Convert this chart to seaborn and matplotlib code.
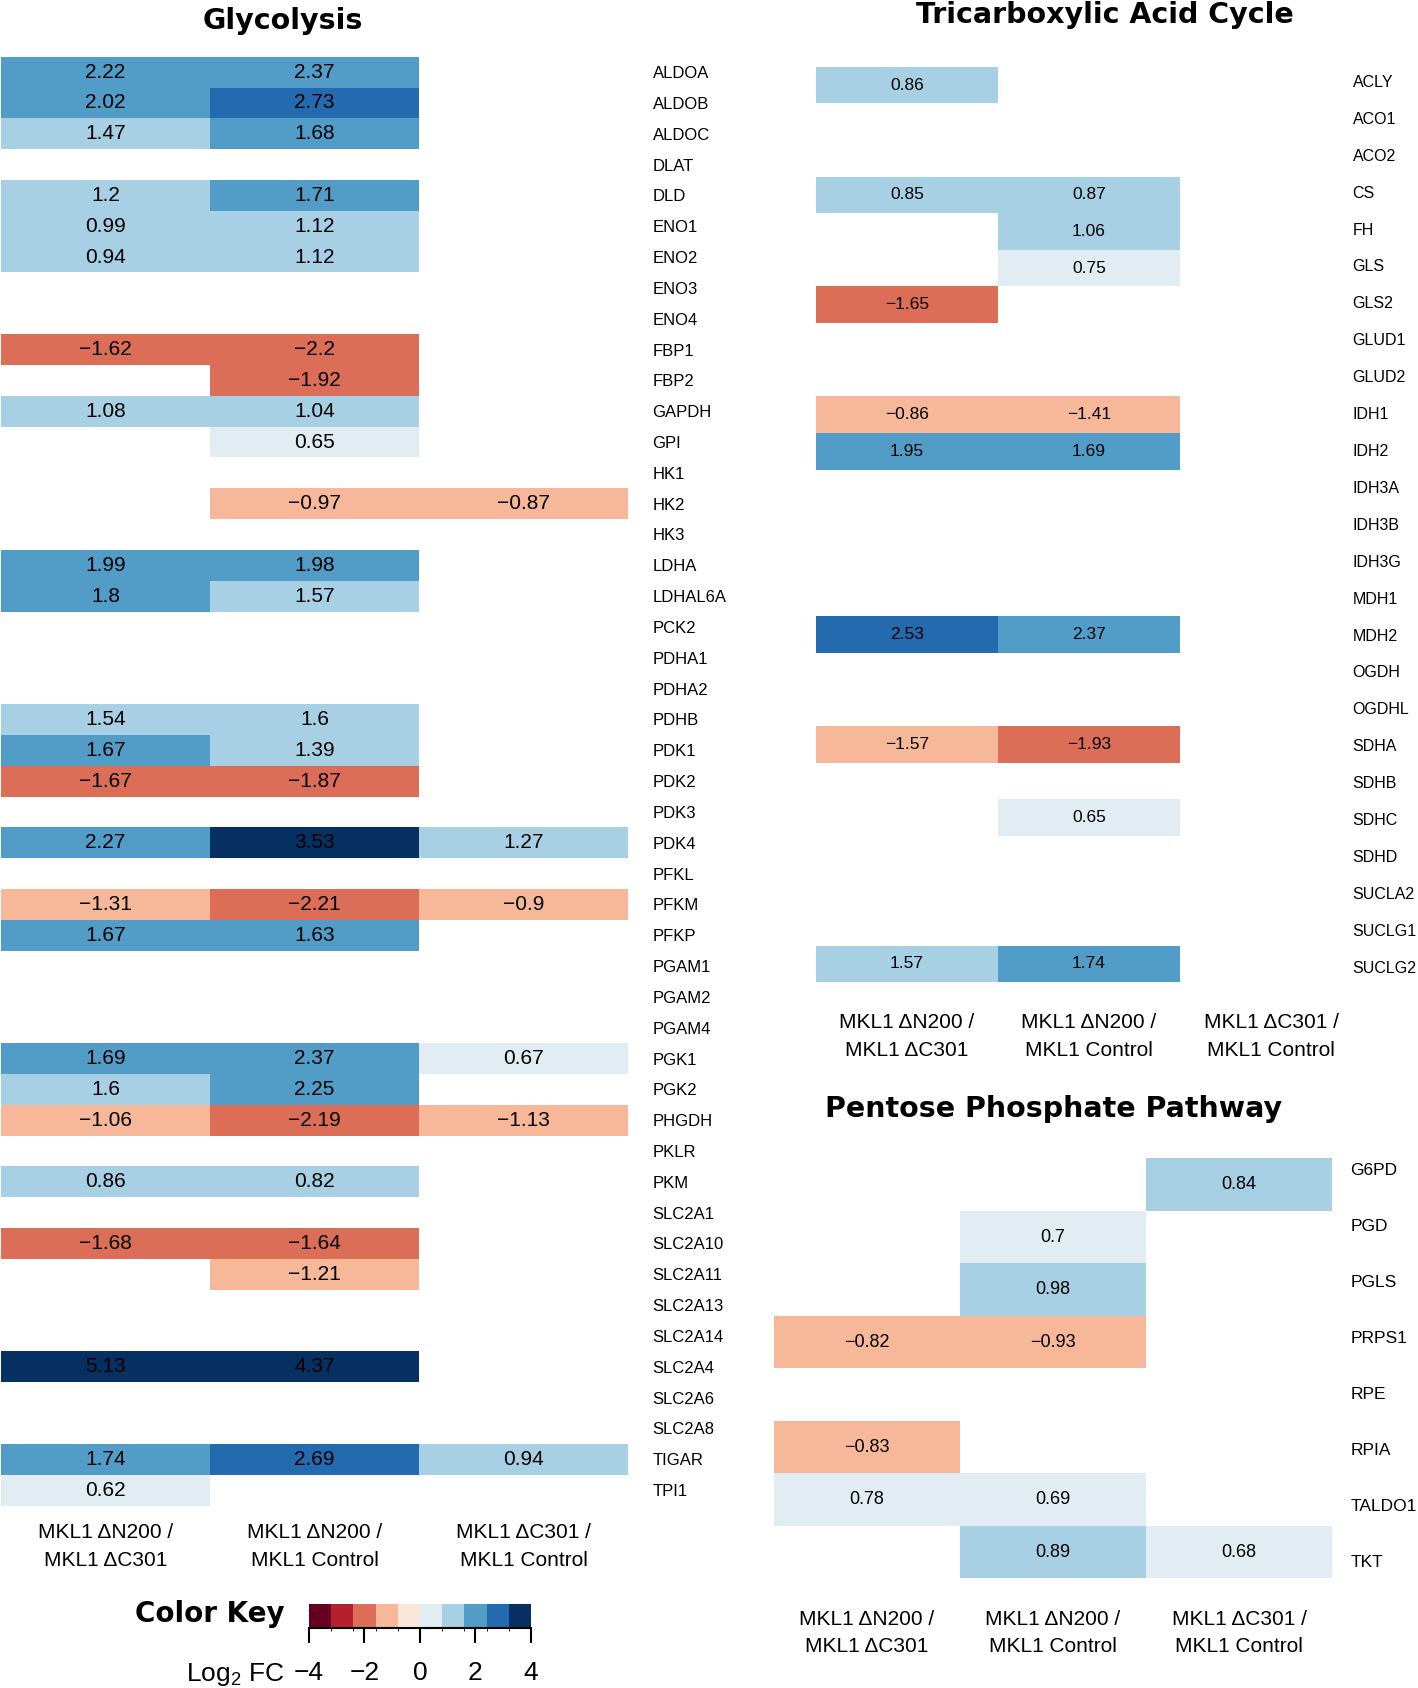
import numpy as np
import pandas as pd
import matplotlib
matplotlib.use("Agg")
import matplotlib.pyplot as plt
from matplotlib.colors import LinearSegmentedColormap, ListedColormap, BoundaryNorm
from matplotlib.cm import ScalarMappable
import seaborn as sns

sns.set_style("white")
plt.rcParams["font.family"] = ["Liberation Sans", "DejaVu Sans"]
plt.rcParams["mathtext.fontset"] = "custom"
plt.rcParams["mathtext.rm"] = "Liberation Sans"
plt.rcParams["mathtext.it"] = "Liberation Sans:italic"
for k in ["text.color", "axes.labelcolor", "xtick.color", "ytick.color",
          "xtick.labelcolor", "ytick.labelcolor"]:
    plt.rcParams[k] = "black"

nan = np.nan

# ---------------- data ----------------
comparisons = ["MKL1 \u0394N200 /\nMKL1 \u0394C301",
               "MKL1 \u0394N200 /\nMKL1 Control",
               "MKL1 \u0394C301 /\nMKL1 Control"]

glyco_genes = ["ALDOA", "ALDOB", "ALDOC", "DLAT", "DLD", "ENO1", "ENO2", "ENO3", "ENO4",
               "FBP1", "FBP2", "GAPDH", "GPI", "HK1", "HK2", "HK3", "LDHA", "LDHAL6A",
               "PCK2", "PDHA1", "PDHA2", "PDHB", "PDK1", "PDK2", "PDK3", "PDK4", "PFKL",
               "PFKM", "PFKP", "PGAM1", "PGAM2", "PGAM4", "PGK1", "PGK2", "PHGDH", "PKLR",
               "PKM", "SLC2A1", "SLC2A10", "SLC2A11", "SLC2A13", "SLC2A14", "SLC2A4",
               "SLC2A6", "SLC2A8", "TIGAR", "TPI1"]
glyco_n200_vs_c301 = [2.22, 2.02, 1.47, nan, 1.2, 0.99, 0.94, nan, nan, -1.62,
                      nan, 1.08, nan, nan, nan, nan, 1.99, 1.8, nan, nan,
                      nan, 1.54, 1.67, -1.67, nan, 2.27, nan, -1.31, 1.67, nan,
                      nan, nan, 1.69, 1.6, -1.06, nan, 0.86, nan, -1.68, nan,
                      nan, nan, 5.13, nan, nan, 1.74, 0.62]
glyco_n200_vs_ctrl = [2.37, 2.73, 1.68, nan, 1.71, 1.12, 1.12, nan, nan, -2.2,
                      -1.92, 1.04, 0.65, nan, -0.97, nan, 1.98, 1.57, nan, nan,
                      nan, 1.6, 1.39, -1.87, nan, 3.53, nan, -2.21, 1.63, nan,
                      nan, nan, 2.37, 2.25, -2.19, nan, 0.82, nan, -1.64, -1.21,
                      nan, nan, 4.37, nan, nan, 2.69, nan]
glyco_c301_vs_ctrl = [nan, nan, nan, nan, nan, nan, nan, nan, nan, nan,
                      nan, nan, nan, nan, -0.87, nan, nan, nan, nan, nan,
                      nan, nan, nan, nan, nan, 1.27, nan, -0.9, nan, nan,
                      nan, nan, 0.67, nan, -1.13, nan, nan, nan, nan, nan,
                      nan, nan, nan, nan, nan, 0.94, nan]

tca_genes = ["ACLY", "ACO1", "ACO2", "CS", "FH", "GLS", "GLS2", "GLUD1", "GLUD2",
             "IDH1", "IDH2", "IDH3A", "IDH3B", "IDH3G", "MDH1", "MDH2", "OGDH", "OGDHL",
             "SDHA", "SDHB", "SDHC", "SDHD", "SUCLA2", "SUCLG1", "SUCLG2"]
tca_n200_vs_c301 = [0.86, nan, nan, 0.85, nan, nan, -1.65, nan, nan, -0.86,
                    1.95, nan, nan, nan, nan, 2.53, nan, nan, -1.57, nan,
                    nan, nan, nan, nan, 1.57]
tca_n200_vs_ctrl = [nan, nan, nan, 0.87, 1.06, 0.75, nan, nan, nan, -1.41,
                    1.69, nan, nan, nan, nan, 2.37, nan, nan, -1.93, nan,
                    0.65, nan, nan, nan, 1.74]
tca_c301_vs_ctrl = [nan] * 25

ppp_genes = ["G6PD", "PGD", "PGLS", "PRPS1", "RPE", "RPIA", "TALDO1", "TKT"]
ppp_n200_vs_c301 = [nan, nan, nan, -0.82, nan, -0.83, 0.78, nan]
ppp_n200_vs_ctrl = [nan, 0.7, 0.98, -0.93, nan, nan, 0.69, 0.89]
ppp_c301_vs_ctrl = [0.84, nan, nan, nan, nan, nan, nan, 0.68]

key_ticks = [-4, -2, 0, 2, 4]

# ---------------- colour scale (10 RdBu bins from -4 to 4) ----------------
brewer_rdbu = ["#67001F", "#B2182B", "#D6604D", "#F4A582", "#FDDBC7", "#F7F7F7",
               "#D1E5F0", "#92C5DE", "#4393C3", "#2166AC", "#053061"]
ramp = LinearSegmentedColormap.from_list("rdbu", brewer_rdbu)
cmap = ListedColormap([ramp(v) for v in np.linspace(0, 1, 10)])
bounds = np.linspace(-4, 4, 11)
bounds[1:-1] += 1e-6          # right-closed bins
norm = BoundaryNorm(bounds, ncolors=10, clip=True)

# ---------------- figure ----------------
W, H = 1418, 1688
fig = plt.figure(figsize=(W / 100, H / 100), dpi=100)


def rect(x0, y0, x1, y1):
    return [x0 / W, 1 - y1 / H, (x1 - x0) / W, (y1 - y0) / H]


def fmt_val(v):
    return "" if np.isnan(v) else f"{v:g}".replace("-", "\u2212")


def panel(cols, genes, heat_px, lab_px, annot_size, lab_size, xpad):
    df = pd.DataFrame(np.column_stack(cols), index=genes, columns=comparisons)
    annot = np.vectorize(fmt_val)(df.values)
    ax = fig.add_axes(rect(*heat_px))
    sns.heatmap(df, ax=ax, cmap=cmap, norm=norm, cbar=False,
                annot=annot, fmt="",
                annot_kws=dict(color="black", fontsize=annot_size),
                xticklabels=comparisons, yticklabels=False)
    ax.set_xlabel("")
    ax.set_ylabel("")
    ax.tick_params(axis="x", length=0, pad=xpad, labelsize=15, labelrotation=0,
                   labelcolor="black")
    for t in ax.get_xticklabels():
        t.set_linespacing(1.55)
        t.set_ha("center")
    # row labels
    lx, ly0, ly1 = lab_px
    lab = fig.add_axes(rect(lx, ly0, lx + 0.5, ly1))
    n = len(genes)
    lab.set_ylim(n, 0)
    lab.set_yticks(np.arange(n) + 0.5)
    lab.set_yticklabels(genes, fontsize=lab_size)
    lab.yaxis.tick_right()
    lab.tick_params(axis="y", length=0, pad=0, labelcolor="black")
    lab.set_xticks([])
    for s in lab.spines.values():
        s.set_visible(False)
    lab.patch.set_visible(False)
    return ax


panel([glyco_n200_vs_c301, glyco_n200_vs_ctrl, glyco_c301_vs_ctrl], glyco_genes,
      (1, 56.7, 628, 1505.5), (652, 56.7, 1505.5), 15, 12, 12.8)
panel([tca_n200_vs_c301, tca_n200_vs_ctrl, tca_c301_vs_ctrl], tca_genes,
      (816, 66.7, 1362, 982.3), (1352, 62.5, 985.2), 12.5, 11.5, 22.3)
panel([ppp_n200_vs_c301, ppp_n200_vs_ctrl, ppp_c301_vs_ctrl], ppp_genes,
      (774, 1158.3, 1332, 1578.3), (1350, 1141, 1589), 13, 12.5, 22.8)

title_kw = dict(ha="center", va="baseline", fontsize=20.5, fontweight="bold",
                family="DejaVu Sans", color="black")
fig.text(283 / W, 1 - 29 / H, "Glycolysis", **title_kw)
fig.text(1105 / W, 1 - 23 / H, "Tricarboxylic Acid Cycle", **title_kw)
fig.text(1054 / W, 1 - 1117 / H, "Pentose Phosphate Pathway", **title_kw)

# ---------------- colour key ----------------
cax = fig.add_axes(rect(309, 1604.3, 531, 1627.7))
sm = ScalarMappable(norm=norm, cmap=cmap)
cb = fig.colorbar(sm, cax=cax, orientation="horizontal", ticks=key_ticks)
cb.outline.set_visible(False)
cax.spines["bottom"].set_visible(True)
cax.spines["bottom"].set_linewidth(1.5)
cax.spines["bottom"].set_color("black")
cax.tick_params(axis="x", length=11, width=1.5, labelsize=19, pad=13, color="black",
                labelcolor="black")
fig.text(285 / W, 1 - 1621.7 / H, "Color Key", ha="right", va="baseline",
         fontsize=20, fontweight="bold", family="DejaVu Sans", color="black")
fig.text(285 / W, 1 - 1681 / H, "Log$_2$ FC", ha="right", va="baseline", fontsize=19,
         color="black")

fig.savefig("out.png", dpi=100, facecolor="white")
